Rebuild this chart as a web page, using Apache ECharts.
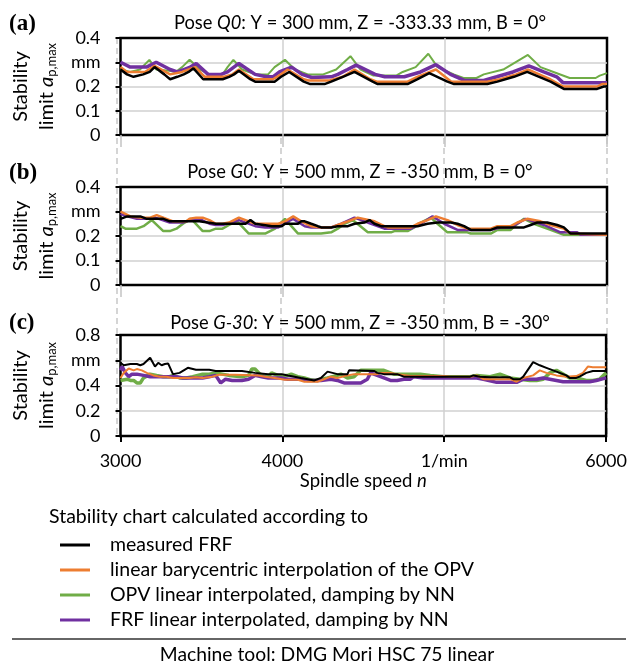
<!DOCTYPE html>
<html><head><meta charset="utf-8">
<script src="https://cdn.jsdelivr.net/npm/echarts@6/dist/echarts.min.js"></script>
<style>html,body{margin:0;padding:0;background:#fff}#c{width:630px;height:670px}</style>
</head><body><div id="c"></div>
<script>
// ---- names / labels ----
const seriesNames = ['measured FRF','linear barycentric interpolation of the OPV','OPV linear interpolated, damping by NN','FRF linear interpolated, damping by NN'];
const seriesColors = ['#000000','#ED7D31','#70AD47','#7030A0'];
const panelLetters = ['(a)','(b)','(c)'];
const panelTitles = ['Pose {i|Q0}: Y = 300 mm, Z = -333.33 mm, B = 0°','Pose {i|G0}: Y = 500 mm, Z = -350 mm, B = 0°','Pose {i|G-30}: Y = 500 mm, Z = -350 mm, B = -30°'];
const xTickLabels = {3000:'3000',4000:'4000',5000:'1/min',6000:'6000'};
const yTickLabelsAB = {0:'0',0.1:'0.1',0.2:'0.2',0.3:'mm',0.4:'0.4'};
const yTickLabelsC = {0:'0',0.2:'0.2',0.4:'0.4',0.6:'mm',0.8:'0.8'};
const legendHeading = 'Stability chart calculated according to';
const footer = 'Machine tool: DMG Mori HSC 75 linear';

// ---- panel (a) data: [spindle speed 1/min, a_p,max mm] ----
const a_measured = [[3000,.27],[3040,.25],[3080,.24],[3140,.25],[3180,.26],[3210,.28],[3270,.25],[3306,.23],[3350,.24],[3390,.25],[3420,.26],[3450,.275],[3510,.23],[3630,.23],[3670,.24],[3700,.25],[3730,.265],[3800,.23],[3830,.22],[3950,.22],[3990,.24],[4040,.26],[4130,.22],[4170,.21],[4258,.21],[4299,.22],[4371,.24],[4443,.26],[4555,.22],[4586,.21],[4770,.21],[4832,.23],[4904,.255],[5016,.22],[5057,.21],[5262,.21],[5324,.22],[5426,.24],[5508,.26],[5652,.22],[5734,.19],[5939,.19],[5980,.2],[6000,.2]];
const a_bary = [[3000,.28],[3040,.26],[3150,.26],[3210,.285],[3306,.25],[3380,.26],[3420,.27],[3460,.28],[3520,.24],[3640,.24],[3690,.25],[3730,.27],[3820,.23],[3940,.23],[3990,.25],[4030,.27],[4130,.23],[4160,.225],[4290,.225],[4370,.24],[4443,.27],[4540,.23],[4580,.22],[4770,.22],[4830,.24],[4945,.27],[5040,.22],[5260,.22],[5340,.23],[5440,.25],[5515,.27],[5650,.23],[5730,.2],[5940,.2],[5970,.21],[6000,.21]];
const a_opv = [[3000,.27],[3060,.26],[3120,.27],[3178,.31],[3220,.27],[3300,.265],[3340,.26],[3380,.28],[3426,.31],[3490,.27],[3550,.25],[3630,.25],[3660,.28],[3696,.31],[3750,.27],[3830,.25],[3910,.25],[3950,.28],[4014,.31],[4075,.27],[4155,.25],[4250,.25],[4330,.27],[4418,.325],[4480,.27],[4560,.245],[4700,.245],[4740,.26],[4820,.28],[4898,.335],[4955,.28],[5055,.25],[5115,.235],[5195,.235],[5240,.25],[5360,.27],[5512,.33],[5590,.28],[5670,.26],[5770,.235],[5930,.235],[5955,.245],[6000,.255]];
const a_frf = [[3000,.3],[3060,.28],[3160,.28],[3220,.3],[3306,.27],[3350,.26],[3390,.27],[3430,.28],[3467,.295],[3540,.25],[3620,.25],[3660,.26],[3730,.295],[3830,.25],[3900,.24],[3940,.24],[3980,.26],[4055,.28],[4120,.25],[4180,.237],[4300,.24],[4340,.25],[4400,.27],[4453,.288],[4570,.25],[4630,.24],[4750,.24],[4850,.26],[4945,.29],[5035,.25],[5120,.225],[5240,.225],[5320,.24],[5420,.26],[5518,.285],[5610,.26],[5690,.24],[5730,.215],[6000,.215]];

// ---- panel (b) data ----
const b_measured = [[3000,.27],[3041,.28],[3122,.28],[3162,.27],[3264,.27],[3304,.26],[3487,.26],[3588,.25],[3771,.25],[3801,.265],[3831,.25],[3933,.24],[3994,.24],[4014,.25],[4095,.25],[4115,.26],[4136,.26],[4176,.25],[4217,.24],[4238,.235],[4299,.235],[4340,.24],[4402,.24],[4443,.25],[4504,.255],[4535,.265],[4566,.25],[4607,.24],[4832,.24],[4893,.25],[4955,.255],[5037,.255],[5078,.25],[5119,.24],[5160,.225],[5283,.225],[5324,.235],[5488,.235],[5529,.245],[5570,.255],[5631,.255],[5693,.245],[5734,.235],[5775,.21],[6000,.21]];
const b_bary = [[3000,.3],[3061,.28],[3122,.275],[3183,.275],[3223,.285],[3284,.27],[3324,.26],[3406,.26],[3426,.27],[3466,.275],[3507,.275],[3548,.265],[3588,.25],[3629,.25],[3669,.255],[3730,.275],[3791,.26],[3831,.25],[3973,.25],[4014,.26],[4065,.28],[4115,.26],[4176,.24],[4237,.235],[4299,.235],[4361,.25],[4402,.26],[4463,.275],[4566,.26],[4627,.24],[4648,.235],[4791,.235],[4832,.25],[4893,.265],[4945,.28],[5016,.265],[5078,.245],[5139,.23],[5283,.23],[5324,.24],[5406,.24],[5447,.255],[5508,.27],[5590,.26],[5652,.245],[5734,.23],[5775,.21],[6000,.205]];
const b_opv = [[3000,.24],[3030,.23],[3101,.23],[3142,.24],[3193,.265],[3264,.22],[3304,.22],[3345,.23],[3385,.25],[3436,.27],[3507,.22],[3548,.22],[3588,.23],[3629,.23],[3669,.245],[3720,.26],[3791,.21],[3892,.21],[3953,.23],[4014,.27],[4095,.21],[4237,.21],[4299,.215],[4340,.23],[4381,.25],[4432,.265],[4525,.215],[4668,.215],[4689,.22],[4770,.22],[4811,.235],[4852,.255],[4914,.275],[4955,.25],[5016,.215],[5139,.215],[5160,.21],[5283,.21],[5324,.225],[5406,.225],[5447,.25],[5488,.27],[5549,.25],[5652,.225],[5734,.205],[6000,.205]];
const b_frf = [[3000,.29],[3041,.28],[3101,.27],[3162,.27],[3213,.275],[3304,.255],[3385,.255],[3426,.265],[3487,.27],[3548,.25],[3588,.245],[3629,.245],[3690,.255],[3730,.265],[3831,.24],[3892,.235],[3973,.235],[4034,.26],[4065,.27],[4136,.24],[4176,.235],[4299,.235],[4361,.25],[4443,.275],[4545,.25],[4627,.23],[4791,.23],[4852,.25],[4924,.28],[4996,.25],[5078,.225],[5283,.225],[5344,.235],[5406,.235],[5498,.27],[5611,.245],[5713,.215],[5816,.215],[5836,.205],[6000,.205]];

// ---- panel (c) data ----
const c_measured = [[3000,.58],[3020,.56],[3061,.57],[3101,.57],[3122,.56],[3142,.57],[3183,.62],[3213,.55],[3233,.58],[3254,.56],[3274,.57],[3294,.575],[3324,.49],[3365,.5],[3416,.54],[3466,.525],[3548,.525],[3588,.515],[3750,.515],[3831,.5],[3913,.49],[3994,.49],[4034,.48],[4075,.47],[4115,.46],[4156,.45],[4196,.44],[4238,.46],[4279,.51],[4340,.49],[4402,.49],[4412,.52],[4566,.515],[4586,.5],[4627,.49],[4709,.49],[4750,.47],[5160,.47],[5180,.48],[5221,.47],[5283,.465],[5406,.465],[5426,.45],[5467,.45],[5488,.47],[5549,.585],[5590,.56],[5631,.54],[5693,.51],[5754,.48],[5775,.46],[5816,.46],[5836,.47],[5877,.5],[5918,.515],[6000,.515]];
const c_bary = [[3000,.46],[3020,.5],[3051,.535],[3081,.52],[3101,.53],[3132,.52],[3162,.5],[3203,.48],[3243,.47],[3284,.47],[3324,.46],[3426,.46],[3466,.465],[3507,.46],[3568,.47],[3608,.485],[3710,.485],[3852,.48],[3893,.47],[3953,.46],[4014,.445],[4095,.445],[4136,.43],[4217,.43],[4238,.44],[4299,.47],[4340,.46],[4402,.48],[4443,.49],[4586,.49],[4607,.5],[4668,.5],[4709,.49],[4791,.475],[4996,.475],[5037,.47],[5160,.47],[5201,.48],[5242,.45],[5406,.45],[5447,.43],[5488,.46],[5549,.48],[5590,.52],[5631,.5],[5693,.48],[5754,.47],[5816,.475],[5857,.5],[5887,.55],[5918,.545],[6000,.545]];
const c_opv = [[3000,.44],[3041,.45],[3061,.44],[3081,.44],[3101,.42],[3122,.42],[3142,.46],[3183,.49],[3223,.48],[3264,.47],[3304,.47],[3324,.48],[3365,.46],[3406,.46],[3446,.47],[3507,.49],[3548,.49],[3588,.5],[3669,.48],[3750,.47],[3791,.48],[3811,.53],[3831,.53],[3862,.49],[3892,.47],[3913,.47],[3933,.5],[3973,.48],[4034,.48],[4055,.49],[4095,.47],[4136,.46],[4176,.445],[4217,.44],[4238,.45],[4279,.46],[4340,.48],[4361,.49],[4402,.46],[4443,.47],[4484,.52],[4627,.52],[4689,.49],[4852,.49],[4914,.48],[4996,.47],[5160,.47],[5201,.48],[5283,.47],[5344,.49],[5406,.46],[5467,.45],[5529,.44],[5570,.44],[5611,.45],[5652,.5],[5693,.52],[5734,.49],[5775,.46],[5816,.46],[5877,.44],[5918,.44],[5959,.45],[6000,.5]];
const c_frf = [[3000,.52],[3010,.55],[3030,.5],[3051,.47],[3071,.49],[3101,.49],[3142,.48],[3183,.47],[3345,.47],[3385,.46],[3507,.46],[3548,.47],[3588,.48],[3619,.42],[3649,.45],[3690,.44],[3750,.44],[3791,.45],[3831,.48],[3872,.47],[3913,.46],[3994,.46],[4034,.45],[4115,.45],[4156,.44],[4238,.44],[4299,.45],[4340,.44],[4381,.42],[4484,.42],[4525,.45],[4545,.5],[4627,.46],[4668,.44],[4709,.44],[4750,.45],[4791,.45],[4811,.47],[4873,.46],[5201,.46],[5242,.45],[5324,.425],[5447,.425],[5488,.45],[5570,.45],[5611,.46],[5652,.45],[5734,.43],[5898,.43],[5939,.44],[6000,.46]];

// ---- build chart ----
const FONT = 'Lato';
const panels = [
  {data:[a_measured,a_bary,a_opv,a_frf], widths:[2.5,2.5,2,3.5], top:38, height:97, max:0.4, interval:0.1, labels:yTickLabelsAB},
  {data:[b_measured,b_bary,b_opv,b_frf], widths:[2.5,2.5,2.5,2.5], top:187, height:98, max:0.4, interval:0.1, labels:yTickLabelsAB},
  {data:[c_measured,c_bary,c_opv,c_frf], widths:[2,2,3.5,3.5], top:335, height:101, max:0.8, interval:0.2, labels:yTickLabelsC}
];
const drawOrder = [2,3,1,0];
const grid = [], xAxis = [], yAxis = [], series = [];
panels.forEach((p, i) => {
  grid.push({left:117, right:23, top:p.top, height:p.height, show:true, backgroundColor:'#fff', borderColor:'#000', borderWidth:2.5});
  const last = i === 2;
  xAxis.push({
    type:'value', gridIndex:i, min:3000, max:6000, interval:1000,
    axisLine:{show:false},
    axisTick:{show:true, length:last?6:12, lineStyle:{color:last?'#000':'#c4c4c4', width:last?2:1.5}},
    axisLabel:{show:last, margin:16, color:'#000', fontFamily:FONT, fontSize:18, formatter:v => xTickLabels[v]},
    splitLine:{show:true, showMinLine:false, showMaxLine:false, lineStyle:{color:'#d0d0d0', width:1.5}},
    name: last ? 'Spindle speed {i|n}' : '', nameLocation:'middle', nameGap:36,
    nameTextStyle:{color:'#000', fontFamily:FONT, fontSize:18.5, rich:{i:{fontStyle:'italic', fontFamily:FONT, fontSize:18.5, color:'#000'}}}
  });
  yAxis.push({
    type:'value', gridIndex:i, min:0, max:p.max, interval:p.interval,
    axisLine:{show:false},
    axisTick:{show:true, length:5, lineStyle:{color:'#000', width:2}},
    axisLabel:{margin:20, color:'#000', fontFamily:FONT, fontSize:18, formatter:v => p.labels[Math.round(v*10)/10]},
    splitLine:{show:true, showMinLine:false, showMaxLine:false, lineStyle:{color:'#d0d0d0', width:1.5}},
    name:'Stability\nlimit {i|a}{s|p,max}', nameLocation:'middle', nameRotate:90, nameGap:60,
    nameTextStyle:{color:'#000', fontFamily:FONT, fontSize:20, lineHeight:26,
      rich:{i:{fontStyle:'italic', fontFamily:FONT, fontSize:20, color:'#000'}, s:{fontFamily:FONT, fontSize:13, color:'#000', padding:[9,0,0,0]}}}
  });
  drawOrder.forEach(k => {
    series.push({type:'line', name:seriesNames[k], xAxisIndex:i, yAxisIndex:i, data:p.data[k],
      showSymbol:false, symbol:'none', color:seriesColors[k],
      lineStyle:{color:seriesColors[k], width:p.widths[k]}, z:2});
  });
});
// background axis for dashed vertical guide lines between panels
grid.push({left:117, right:23, top:38, bottom:234});
xAxis.push({type:'value', gridIndex:3, min:3000, max:6000, interval:1000, z:-1,
  axisLine:{show:false}, axisTick:{show:false}, axisLabel:{show:false},
  splitLine:{show:true, lineStyle:{color:'#c8c8c8', width:1.5, type:[6,4]}}});
yAxis.push({type:'value', gridIndex:3, show:false, splitLine:{show:false}});

const graphic = [];
const titleY = [23, 172, 323];
const letterY = [24, 173, 323];
panelTitles.forEach((t, i) => {
  graphic.push({type:'text', x:360, y:titleY[i], z:10, style:{text:t, fill:'#000', fontFamily:FONT, fontSize:18.3, align:'center', verticalAlign:'middle',
    rich:{i:{fontStyle:'italic', fontFamily:FONT, fontSize:18.3, fill:'#000'}}}});
  graphic.push({type:'text', x:9, y:letterY[i], z:10, style:{text:panelLetters[i], fill:'#000', fontFamily:'Liberation Serif', fontWeight:'bold', fontSize:23, align:'left', verticalAlign:'middle'}});
});
graphic.push({type:'text', x:49, y:517, style:{text:legendHeading, fill:'#000', fontFamily:FONT, fontSize:19.5, align:'left', verticalAlign:'middle'}});
graphic.push({type:'line', shape:{x1:12, y1:639, x2:626, y2:639}, style:{stroke:'#333', lineWidth:1.5}});
graphic.push({type:'text', x:327, y:655, style:{text:footer, fill:'#000', fontFamily:FONT, fontSize:19.3, align:'center', verticalAlign:'middle'}});

const chart = echarts.init(document.getElementById('c'), null, {renderer:'canvas'});
chart.setOption({
  animation:false,
  backgroundColor:'#fff',
  grid, xAxis, yAxis, series, graphic,
  legend:{data:seriesNames, orient:'vertical', left:55, top:530, itemWidth:30, itemHeight:3, icon:'rect', itemGap:5,
    textStyle:{fontFamily:FONT, fontSize:19.5, color:'#000', lineHeight:20, padding:[0,0,0,15]}, selectedMode:false}
});
</script></body></html>
